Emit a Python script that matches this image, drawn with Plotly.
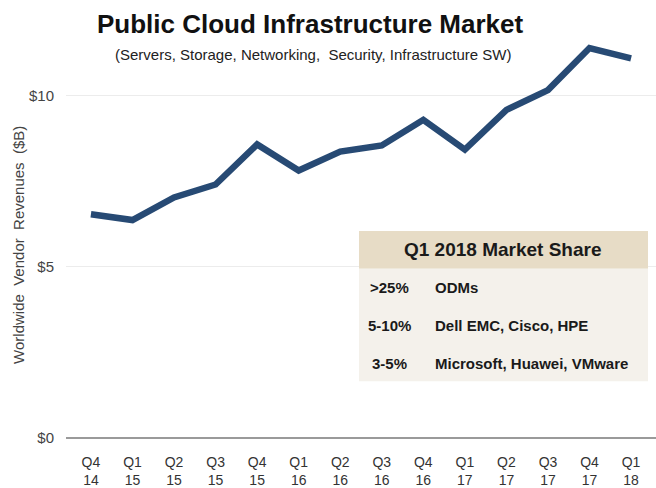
import plotly.graph_objects as go

# Quarterly public cloud infrastructure revenues, $B
quarters = ["Q4<br>14", "Q1<br>15", "Q2<br>15", "Q3<br>15", "Q4<br>15", "Q1<br>16", "Q2<br>16",
            "Q3<br>16", "Q4<br>16", "Q1<br>17", "Q2<br>17", "Q3<br>17", "Q4<br>17", "Q1<br>18"]
revenues = [6.54, 6.37, 7.03, 7.41, 8.58, 7.82, 8.37, 8.55, 9.30, 8.43, 9.59, 10.17, 11.40, 11.10]

y_ticks = [0, 5, 10]
y_tick_labels = ["$0", "$5", "$10"]

# Q1 2018 market share table
share_header = "Q1 2018 Market Share"
share_ranges = [">25%", "5-10%", "3-5%"]
share_vendors = ["ODMs", "Dell EMC, Cisco, HPE", "Microsoft, Huawei, VMware"]

W, H = 656, 488
ML, MR, MT, MB = 66, 0, 7, 43
NARROW = "Liberation Sans Narrow, Arial Narrow, Liberation Sans, Arial, sans-serif"


def px(x):
    return (x - ML) / (W - ML - MR)


def py(y):
    return (H - MB - y) / (H - MT - MB)


fig = go.Figure()
fig.add_trace(go.Scatter(
    x=quarters, y=revenues, mode="lines",
    line=dict(color="#274a74", width=6.5),
    hoverinfo="skip", showlegend=False,
))

shapes = [
    # table header band and body
    dict(type="rect", xref="paper", yref="paper", x0=px(359), x1=px(648), y0=py(270), y1=py(232),
         fillcolor="#e7dcc6", line=dict(width=0), layer="above"),
    dict(type="rect", xref="paper", yref="paper", x0=px(359), x1=px(648), y0=py(383), y1=py(270),
         fillcolor="#f4f1eb", line=dict(width=0), layer="above"),
]

annotations = [
    dict(text="<b>Public Cloud Infrastructure Market</b>", xref="paper", yref="paper",
         x=px(310), y=py(24), showarrow=False, xanchor="center", yanchor="middle",
         font=dict(family=NARROW, size=26, color="#111111")),
    dict(text="(Servers, Storage, Networking,  Security, Infrastructure SW)", xref="paper", yref="paper",
         x=px(313), y=py(55), showarrow=False, xanchor="center", yanchor="middle",
         font=dict(family=NARROW, size=15, color="#222222")),
    dict(text="Worldwide  Vendor  Revenues  ($B)", xref="paper", yref="paper",
         x=px(19), y=py(246), showarrow=False, textangle=-90, xanchor="center", yanchor="middle",
         font=dict(family="Liberation Sans, Arial, sans-serif", size=15, color="#444444")),
    dict(text="<b>" + share_header + "</b>", xref="paper", yref="paper",
         x=px(503), y=py(251), showarrow=False, xanchor="center", yanchor="middle",
         font=dict(family=NARROW, size=19, color="#1a1a1a")),
]

row_y = [289, 327, 365]
for rng, vendors, ry in zip(share_ranges, share_vendors, row_y):
    annotations.append(dict(text="<b>" + rng + "</b>", xref="paper", yref="paper",
                            x=px(389), y=py(ry), showarrow=False, xanchor="center", yanchor="middle",
                            font=dict(family=NARROW, size=15, color="#1a1a1a")))
    annotations.append(dict(text="<b>" + vendors + "</b>", xref="paper", yref="paper",
                            x=px(433), y=py(ry), showarrow=False, xanchor="left", yanchor="middle",
                            font=dict(family=NARROW, size=15, color="#1a1a1a")))

fig.update_layout(
    width=W, height=H,
    margin=dict(l=ML, r=MR, t=MT, b=MB, pad=0),
    paper_bgcolor="white", plot_bgcolor="white",
    shapes=shapes, annotations=annotations,
    xaxis=dict(
        type="category", range=[-0.6, 13.6],
        showgrid=False, showline=False, zeroline=False, ticks="",
        ticklabelstandoff=9,
        tickfont=dict(family=NARROW, size=14, color="#333333"),
        fixedrange=True,
    ),
    yaxis=dict(
        range=[-0.15, 12.6],
        tickvals=y_ticks, ticktext=y_tick_labels,
        showgrid=True, gridcolor="#ececec", gridwidth=1,
        zeroline=True, zerolinecolor="#9a9a9a", zerolinewidth=1.5,
        showline=False, ticks="", ticklabelstandoff=11,
        tickfont=dict(family=NARROW, size=15, color="#444444"),
        fixedrange=True,
    ),
)

fig.write_html("out.html")
